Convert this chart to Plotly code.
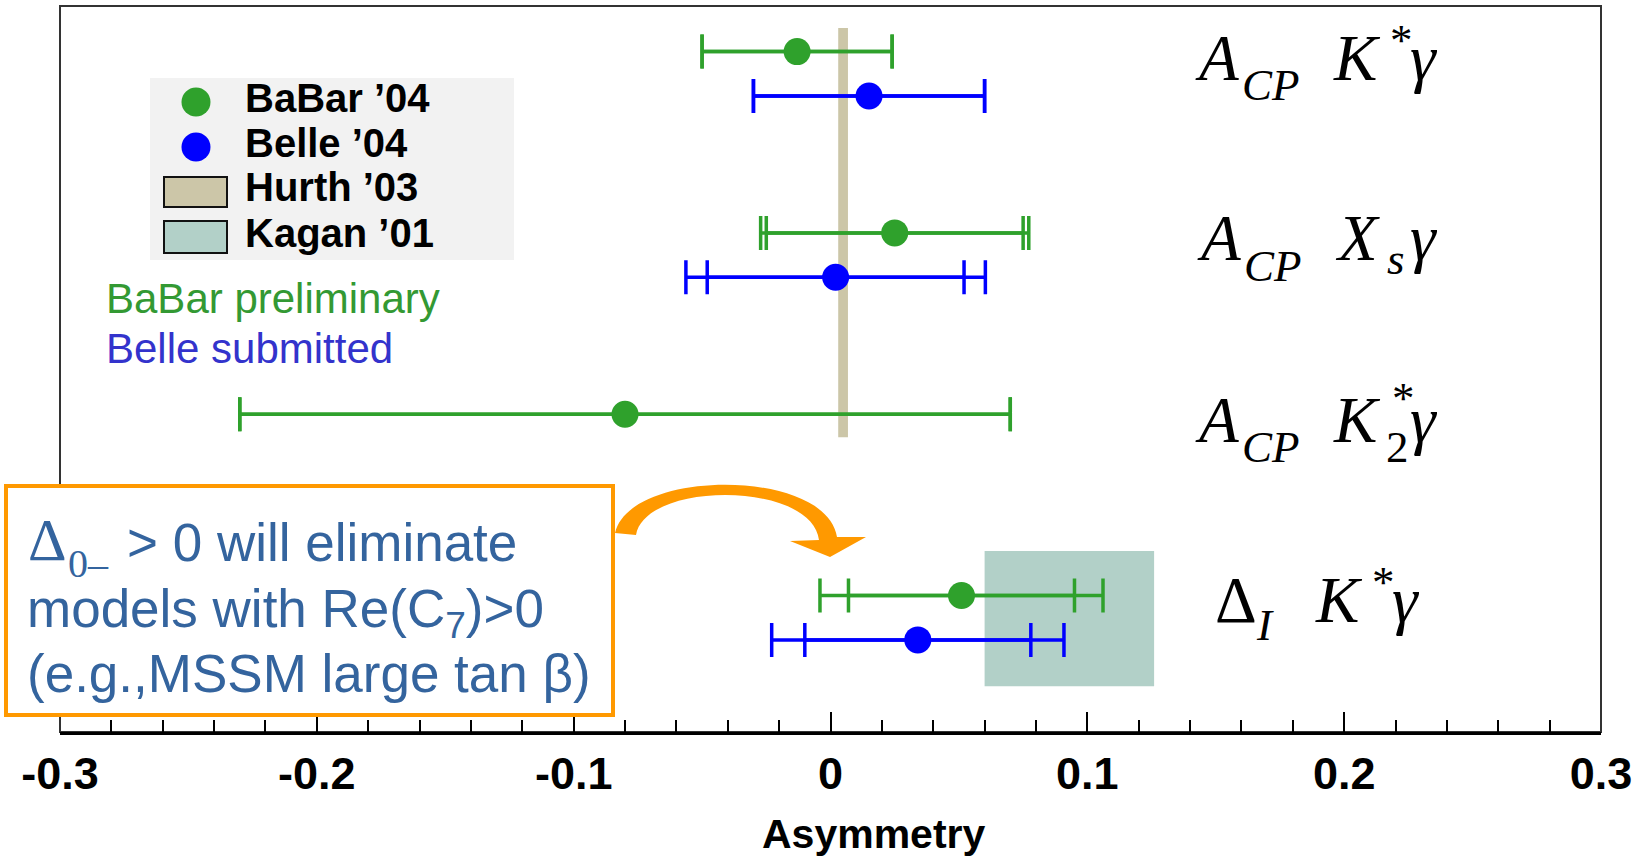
import plotly.graph_objects as go

# ---------------- data ----------------
rows = ["A_CP K*γ", "A_CP Xsγ", "A_CP K2*γ", "Δ_I K*γ"]
belle_offset = 0.245

babar_rows = [0, 1, 2, 3]
babar_val = [-0.013, 0.025, -0.080, 0.051]
babar_stat = [0.037, 0.050, 0.150, 0.044]
babar_tot = [0.037, 0.0522, 0.150, 0.0551]

belle_rows = [0, 1, 3]
belle_val = [0.015, 0.002, 0.034]
belle_stat = [0.045, 0.050, 0.044]
belle_tot = [0.045, 0.0583, 0.0569]

hurth_x = [0.0030, 0.0068]
hurth_y = [-0.13, 2.127]
kagan_x = [0.060, 0.126]
kagan_y = [2.755, 3.50]

tick_vals = [-0.3, -0.2, -0.1, 0.0, 0.1, 0.2, 0.3]
tick_text = ["-0.3", "-0.2", "-0.1", "0", "0.1", "0.2", "0.3"]

GREEN = "#2fa12c"
BLUE = "#0000ff"
TAN = "#ccc6a8"
TEAL = "#b2d0c8"
ORANGE = "#ff9900"
BOXTXT = "#34649e"

# ---------------- layout geometry ----------------
W, H = 1650, 857
ML, MR, MT, MB = 60, 49, 6, 125
PW = W - ML - MR
PH = H - MT - MB


def X(px):
    return (px - ML) / PW


def Y(py):
    return (H - MB - py) / PH


belle_y = [r + belle_offset for r in belle_rows]

fig = go.Figure()

# stat error bars (inner caps)
fig.add_trace(go.Scatter(
    x=babar_val, y=babar_rows, mode="markers",
    marker=dict(size=1, opacity=0, color=GREEN),
    error_x=dict(type="data", array=babar_stat, color=GREEN, thickness=3.5, width=17),
    showlegend=False, hoverinfo="skip"))
fig.add_trace(go.Scatter(
    x=belle_val, y=belle_y, mode="markers",
    marker=dict(size=1, opacity=0, color=BLUE),
    error_x=dict(type="data", array=belle_stat, color=BLUE, thickness=3.5, width=17),
    showlegend=False, hoverinfo="skip"))
# total error bars + points
fig.add_trace(go.Scatter(
    x=babar_val, y=babar_rows, mode="markers", name="BaBar '04",
    marker=dict(size=27, color=GREEN, line=dict(width=0)),
    error_x=dict(type="data", array=babar_tot, color=GREEN, thickness=3.5, width=17),
    showlegend=False))
fig.add_trace(go.Scatter(
    x=belle_val, y=belle_y, mode="markers", name="Belle '04",
    marker=dict(size=27, color=BLUE, line=dict(width=0)),
    error_x=dict(type="data", array=belle_tot, color=BLUE, thickness=3.5, width=17),
    showlegend=False))

shapes = []
# plot frame
shapes.append(dict(type="rect", xref="paper", yref="paper", x0=0, x1=1, y0=0, y1=1,
                   line=dict(color="#333333", width=2), layer="below"))
# theory bands
shapes.append(dict(type="rect", xref="x", yref="y", x0=hurth_x[0], x1=hurth_x[1],
                   y0=hurth_y[0], y1=hurth_y[1], fillcolor=TAN, line=dict(width=0), layer="below"))
shapes.append(dict(type="rect", xref="x", yref="y", x0=kagan_x[0], x1=kagan_x[1],
                   y0=kagan_y[0], y1=kagan_y[1], fillcolor=TEAL, line=dict(width=0), layer="below"))

# legend box
shapes.append(dict(type="rect", xref="paper", yref="paper", x0=X(150), x1=X(514), y0=Y(260), y1=Y(78),
                   fillcolor="#f2f2f2", line=dict(width=0), layer="below"))
for cy, col in [(102, GREEN), (147, BLUE)]:
    shapes.append(dict(type="circle", xref="paper", yref="paper", x0=X(196 - 14.5), x1=X(196 + 14.5),
                       y0=Y(cy + 14.5), y1=Y(cy - 14.5), fillcolor=col, line=dict(width=0), layer="below"))
for (y0, y1), col in [((177, 207), TAN), ((221, 253), TEAL)]:
    shapes.append(dict(type="rect", xref="paper", yref="paper", x0=X(164), x1=X(227), y0=Y(y1), y1=Y(y0),
                       fillcolor=col, line=dict(color="#111111", width=2), layer="below"))

# orange comment box
shapes.append(dict(type="rect", xref="paper", yref="paper", x0=X(6), x1=X(613), y0=Y(715), y1=Y(486),
                   fillcolor="white", line=dict(color=ORANGE, width=4), layer="above"))
# curved arrow
arrow = (f"M {X(615)},{Y(533)} C {X(630)},{Y(468)} {X(826)},{Y(468)} {X(837)},{Y(537)} "
         f"L {X(866)},{Y(537)} L {X(830)},{Y(557)} L {X(790)},{Y(541)} L {X(819)},{Y(540)} "
         f"C {X(812)},{Y(481)} {X(645)},{Y(481)} {X(636)},{Y(535)} Z")
shapes.append(dict(type="path", xref="paper", yref="paper", path=arrow,
                   fillcolor=ORANGE, line=dict(width=0), layer="above"))

ann = []


def txt(px, baseline, s, size, family="Liberation Sans", color="black", asc=0.905,
        bold=False, xanchor="left"):
    ann.append(dict(xref="paper", yref="paper", x=X(px), y=Y(baseline - asc * size),
                    xanchor=xanchor, yanchor="top", text=s, showarrow=False,
                    font=dict(family=family, size=size, color=color,
                              weight="bold" if bold else "normal"),
                    borderpad=0, borderwidth=0))


SERIF = "Liberation Serif"
SA = 0.891


def star(px, glyph_top):
    size = 45
    ann.append(dict(xref="paper", yref="paper", x=X(px), y=Y(glyph_top - 9.7),
                    xanchor="left", yanchor="top", text="*", showarrow=False,
                    font=dict(family=SERIF, size=size, color="black"), borderpad=0, borderwidth=0))


# row labels
# row 1: A_CP K* gamma
txt(1195, 80, "<i>A</i>", 65, SERIF, asc=SA)
txt(1242, 100, "<i>CP</i>", 45, SERIF, asc=SA)
txt(1333, 80, "<i>K</i>", 65, SERIF, asc=SA)
star(1390, 25)
txt(1410, 80, "<i>γ</i>", 65, SERIF, asc=SA)
# row 2: A_CP Xs gamma
txt(1197, 260, "<i>A</i>", 65, SERIF, asc=SA)
txt(1244, 281, "<i>CP</i>", 45, SERIF, asc=SA)
txt(1335, 260, "<i>X</i>", 65, SERIF, asc=SA)
txt(1387, 274, "<i>s</i>", 45, SERIF, asc=SA)
txt(1410, 260, "<i>γ</i>", 65, SERIF, asc=SA)
# row 3: A_CP K2* gamma
txt(1195, 442, "<i>A</i>", 65, SERIF, asc=SA)
txt(1242, 462, "<i>CP</i>", 45, SERIF, asc=SA)
txt(1333, 442, "<i>K</i>", 65, SERIF, asc=SA)
txt(1386, 462, "2", 45, SERIF, asc=SA)
star(1392, 383)
txt(1410, 442, "<i>γ</i>", 65, SERIF, asc=SA)
# row 4: Delta_I K* gamma
txt(1215, 622, "Δ", 65, SERIF, asc=SA)
txt(1256, 640, "<i>I</i>", 45, SERIF, asc=SA)
txt(1315, 622, "<i>K</i>", 65, SERIF, asc=SA)
star(1372, 567)
txt(1392, 622, "<i>γ</i>", 65, SERIF, asc=SA)

# legend texts
txt(245, 112, "BaBar ’04", 40, bold=True)
txt(245, 157, "Belle ’04", 40, bold=True)
txt(245, 201, "Hurth ’03", 40, bold=True)
txt(245, 247, "Kagan ’01", 40, bold=True)

txt(106, 313, "BaBar preliminary", 42, color="#339933")
txt(106, 363, "Belle submitted", 42, color="#3333cc")

# comment box text
txt(28, 560, "Δ", 60, SERIF, color=BOXTXT, asc=SA)
txt(68, 577, "0–", 40, SERIF, color=BOXTXT, asc=SA)
txt(127, 561, "> 0 will eliminate", 53, color=BOXTXT)
txt(27, 627, "models with Re(C<sub>7</sub>)>0", 53, color=BOXTXT)
txt(27, 692, "(e.g.,MSSM large tan β)", 53, color=BOXTXT)

# axis title
txt(874, 848, "Asymmetry", 41, bold=True, xanchor="center")

fig.update_layout(
    width=W, height=H,
    margin=dict(l=ML, r=MR, t=MT, b=MB, pad=0),
    paper_bgcolor="white", plot_bgcolor="white",
    showlegend=False,
    shapes=shapes, annotations=ann,
    xaxis=dict(range=[-0.3, 0.3], showgrid=False, zeroline=False,
               showline=True, linecolor="black", linewidth=3,
               ticks="inside", ticklen=20, tickwidth=2, tickcolor="black",
               tickvals=tick_vals, ticktext=tick_text,
               tickfont=dict(family="Liberation Sans", size=45, color="black", weight="bold"),
               minor=dict(dtick=0.02, tick0=-0.3, ticks="inside", ticklen=12, tickwidth=2,
                          tickcolor="black"),
               ticklabelstandoff=0),
    yaxis=dict(range=[3.7529, -0.2515], showgrid=False, zeroline=False,
               showticklabels=False, ticks="", showline=False),
)

fig.write_html("out.html")
